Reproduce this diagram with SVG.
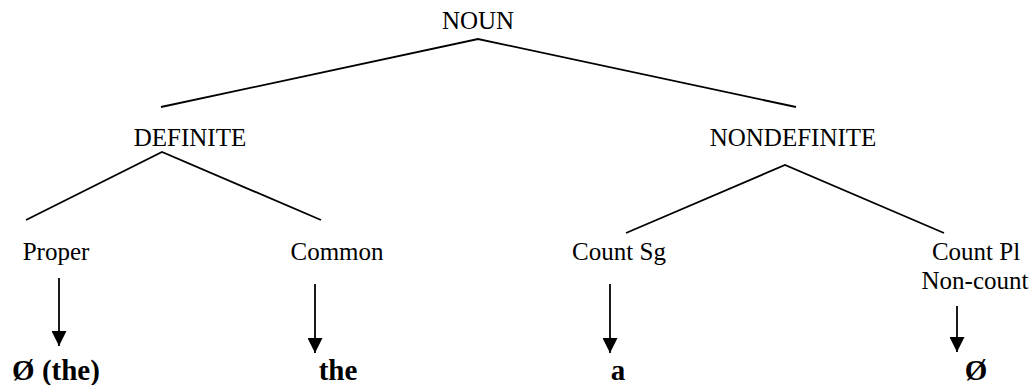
<svg xmlns="http://www.w3.org/2000/svg" width="1035" height="385" viewBox="0 0 1035 385">
<style>
.lbl{font-family:"Liberation Serif","Times New Roman",serif;font-size:25px;fill:#000;text-anchor:middle}
.out{font-family:"Liberation Serif","Times New Roman",serif;font-size:29px;font-weight:bold;fill:#000;text-anchor:middle}
.edge{stroke:#000;stroke-width:1.8;fill:none}
</style>
<defs>
<marker id="ah" viewBox="0 0 10 10" refX="10" refY="5" markerWidth="15" markerHeight="15" markerUnits="userSpaceOnUse" orient="auto">
<path d="M0,0 L10,5 L0,10 Z" fill="#000"/>
</marker>
</defs>
<rect width="1035" height="385" fill="#fff"/>
<g id="connectors">
<polyline class="edge" points="161,107 478,39 796,107"/>
<polyline class="edge" points="26,220 162,152 321,220"/>
<polyline class="edge" points="626,233 785,165 944,233"/>
<line class="edge" x1="59" y1="278" x2="59" y2="346" marker-end="url(#ah)"/>
<line class="edge" x1="315" y1="284" x2="315" y2="353" marker-end="url(#ah)"/>
<line class="edge" x1="610" y1="284" x2="610" y2="353" marker-end="url(#ah)"/>
<line class="edge" x1="957" y1="306" x2="957" y2="352" marker-end="url(#ah)"/>
</g>
<g id="noun"><text class="lbl" x="478" y="29">NOUN</text></g>
<g id="definite"><text class="lbl" x="190" y="146">DEFINITE</text></g>
<g id="nondefinite"><text class="lbl" x="793" y="146">NONDEFINITE</text></g>
<g id="proper"><text class="lbl" x="56" y="260">Proper</text></g>
<g id="common"><text class="lbl" x="337" y="260">Common</text></g>
<g id="countsg"><text class="lbl" x="619" y="260">Count Sg</text></g>
<g id="countpl"><text class="lbl" x="976" y="260">Count Pl</text><text class="lbl" x="975" y="289">Non-count</text></g>
<g id="out-proper"><text class="out" x="56" y="380">Ø (the)</text></g>
<g id="out-common"><text class="out" x="338" y="380">the</text></g>
<g id="out-countsg"><text class="out" x="618" y="380">a</text></g>
<g id="out-countpl"><text class="out" x="976" y="380">Ø</text></g>
</svg>
